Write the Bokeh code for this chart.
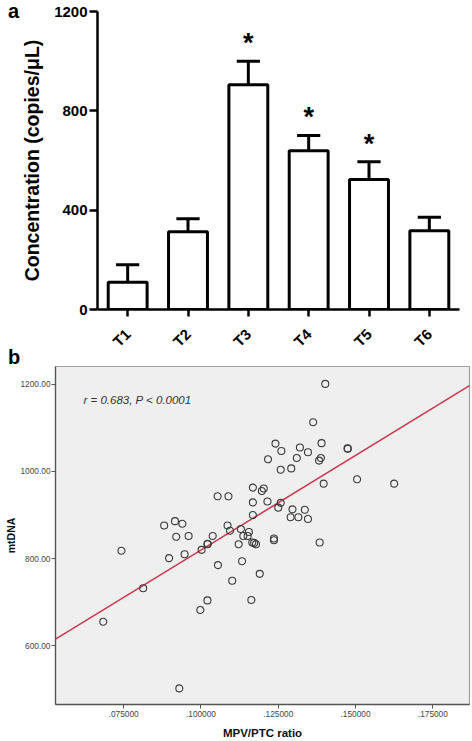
from math import pi
from bokeh.plotting import figure
from bokeh.models import (Range1d, FactorRange, Label, FixedTicker, Div,
                          NumeralTickFormatter, ColumnDataSource)
from bokeh.embed import file_html
from bokeh.resources import INLINE
from bokeh.core.properties import value

# ---------------- panel a data ----------------
times = ["T1", "T2", "T3", "T4", "T5", "T6"]
conc_mean = [110, 313, 905, 639, 523, 317]
conc_sem = [70, 52, 95, 62, 72, 54]
signif = ["", "", "*", "*", "*", ""]
conc_ticks = [0, 400, 800, 1200]

# ---------------- panel b data ----------------
mpv_ptc = [140200, 136300, 124100, 139000, 132000, 126000, 134600, 147400, 147500,
           121700, 131000, 138800, 138200, 125800, 129200, 150500, 139700, 162500,
           116800, 120300, 119700, 105400, 108900, 116800, 121500, 125800, 125000,
           129600, 133600, 116800, 129000, 131500, 134600, 91600, 94000, 88100,
           108600, 112900, 109400, 115500, 92000, 96000, 103800, 113700, 115100,
           123600, 123600, 102100, 102200, 112200, 116600, 117200, 117800, 138400,
           74300, 100200, 94700, 89700, 113300, 105500, 119000, 110100, 81300,
           116300, 102100, 99800, 68400, 93000]
mtdna = [1201, 1113, 1064, 1065, 1055, 1047, 1044, 1053, 1052,
         1028, 1031, 1031, 1025, 1004, 1007, 982, 972, 972,
         963, 961, 955, 943, 943, 929, 931, 928, 917,
         913, 912, 900, 895, 895, 891, 886, 880, 876,
         876, 868, 864, 861, 850, 852, 852, 852, 852,
         846, 842, 833, 834, 833, 837, 836, 833, 837,
         818, 820, 810, 801, 794, 785, 765, 749, 732,
         705, 704, 682, 655, 502]
fit_x = [52950, 186850]
fit_y = [615, 1197]
ratio_ticks = [75000, 100000, 125000, 150000, 175000]
ratio_tick_labels = [".075000", ".100000", ".125000", ".150000", ".175000"]
mtdna_ticks = [600, 800, 1000, 1200]
stat_text = "r = 0.683, P < 0.0001"
panel_letters = ["a", "b"]

FONT = "Liberation Sans"

# ---------------- panel a ----------------
upper = [m + s for m, s in zip(conc_mean, conc_sem)]
src_a = ColumnDataSource(dict(t=times, mean=conc_mean, upper=upper, sig=signif))

pa = figure(width=472, height=365,
            x_range=FactorRange(factors=times, range_padding=0),
            y_range=Range1d(0, 1200),
            output_backend="svg", toolbar_location=None,
            min_border_left=97, min_border_right=13,
            min_border_top=11, min_border_bottom=56)
pa.outline_line_color = None
pa.xgrid.grid_line_color = None
pa.ygrid.grid_line_color = None

pa.segment(x0="t", y0="mean", x1="t", y1="upper", source=src_a,
           line_color="black", line_width=3)
pa.rect(x="t", y="upper", width=0.385, height=3, height_units="screen",
        source=src_a, fill_color="black", line_color=None)
pa.vbar(x="t", top="mean", bottom=0, width=0.645, source=src_a,
        fill_color="white", line_color="black", line_width=3)
pa.text(x="t", y="upper", text="sig", source=src_a, y_offset=-18,
        text_align="center", text_baseline="alphabetic",
        text_font=value(FONT), text_font_size="27px", text_font_style="bold",
        text_color="black")

for ax in (pa.xaxis[0], pa.yaxis[0]):
    ax.axis_line_width = 2.5
    ax.axis_line_color = "black"
    ax.major_tick_line_width = 2.5
    ax.major_tick_line_color = "black"
    ax.major_tick_in = 0
    ax.minor_tick_line_color = None
    ax.major_label_text_font = FONT
    ax.major_label_text_font_style = "bold"
    ax.major_label_text_font_size = "15px"
    ax.major_label_text_color = "black"

pa.xaxis.major_tick_out = 7
pa.xaxis.major_label_orientation = pi / 4
pa.xaxis.major_label_standoff = 15

pa.yaxis.ticker = FixedTicker(ticks=conc_ticks)
pa.yaxis.major_tick_out = 8
pa.yaxis.major_label_standoff = 2
pa.yaxis.axis_label = "Concentration (copies/\u03bcL)"
pa.yaxis.axis_label_text_font = FONT
pa.yaxis.axis_label_text_font_style = "bold"
pa.yaxis.axis_label_text_font_size = "19.5px"
pa.yaxis.axis_label_text_color = "black"
pa.yaxis.axis_label_standoff = 8

# ---------------- panel b ----------------
pb = figure(width=472, height=376,
            x_range=Range1d(52950, 186850), y_range=Range1d(465, 1241),
            output_backend="svg", toolbar_location=None,
            min_border_left=55, min_border_right=3,
            min_border_top=1, min_border_bottom=36,
            background_fill_color="#efefef")
pb.outline_line_color = "#a0a0a0"
pb.outline_line_width = 1.2
pb.xgrid.grid_line_color = None
pb.ygrid.grid_line_color = None

pb.line(fit_x, fit_y, line_color="#cc3a4a", line_width=1.6)
pb.scatter(mpv_ptc, mtdna, marker="circle", size=7, fill_color=None,
           line_color="#3a3a3a", line_width=1.1)

pb.add_layout(Label(x=62000, y=1165, text=stat_text, text_font=FONT,
                    text_font_size="11.5px", text_font_style="italic",
                    text_baseline="alphabetic", text_color="#333333"))

for ax in (pb.xaxis[0], pb.yaxis[0]):
    ax.axis_line_color = "#555555"
    ax.axis_line_width = 1.3
    ax.major_tick_line_color = "#555555"
    ax.major_tick_line_width = 1
    ax.major_tick_in = 0
    ax.major_tick_out = 4
    ax.minor_tick_line_color = None
    ax.major_label_text_font = FONT
    ax.major_label_text_font_size = "8.3px"
    ax.major_label_text_color = "#444444"
    ax.major_label_standoff = 2
    ax.axis_label_text_font = FONT
    ax.axis_label_text_font_style = "bold"
    ax.axis_label_text_color = "#111111"

pb.xaxis.ticker = FixedTicker(ticks=ratio_ticks)
pb.xaxis.major_label_overrides = {t: lab for t, lab in zip(ratio_ticks, ratio_tick_labels)}
pb.xaxis.axis_label = "MPV/PTC ratio"
pb.xaxis.axis_label_text_font_size = "11.5px"
pb.xaxis.axis_label_standoff = 7

pb.yaxis.ticker = FixedTicker(ticks=mtdna_ticks)
pb.yaxis.formatter = NumeralTickFormatter(format="0.00")
pb.yaxis.major_label_standoff = 1
pb.yaxis.axis_label = "mtDNA"
pb.yaxis.axis_label_text_font_size = "10.5px"
pb.yaxis.axis_label_standoff = 1

# ---------------- panel letters (absolutely positioned, out of the flow) ----
letter_style = {"position": "absolute", "font-family": FONT, "font-weight": "bold",
                "font-size": "20px", "line-height": "22px", "color": "black",
                "margin": "0", "padding": "0"}
div_a = Div(text=panel_letters[0], width=20, height=22,
            styles=dict(letter_style, left="8px", top="0px"))
div_b = Div(text=panel_letters[1], width=20, height=22,
            styles=dict(letter_style, left="8px", top="346px"))

# separate roots so the plot frames are not aligned to each other
p = (pa, pb, div_a, div_b)

open("out.html", "w").write(file_html(p, INLINE))
